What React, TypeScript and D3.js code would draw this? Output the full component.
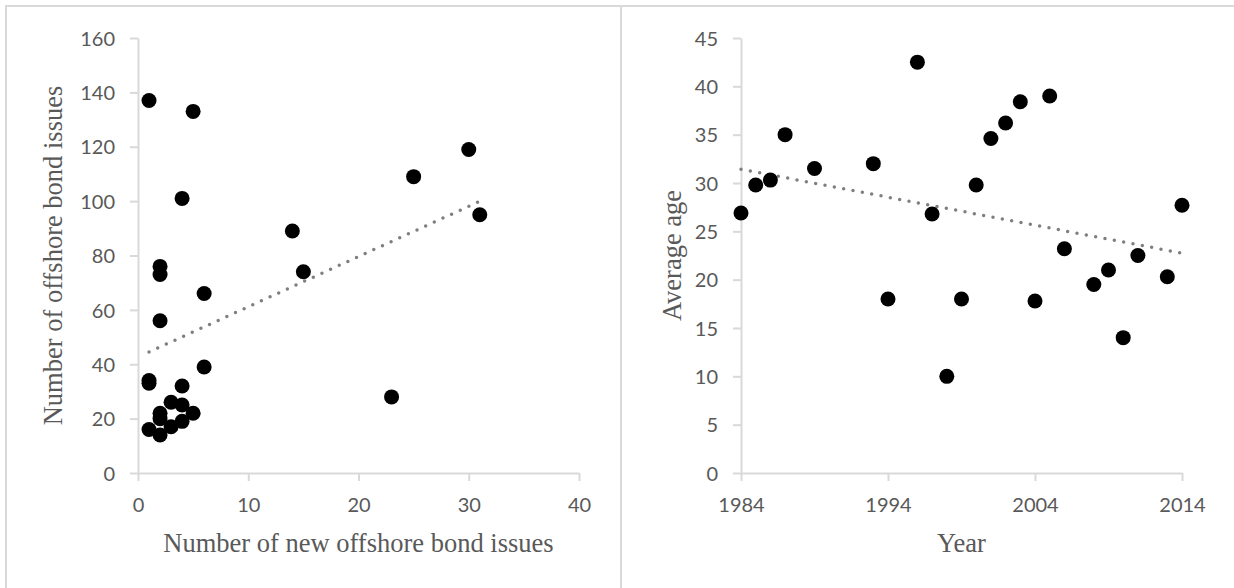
import React, { useEffect, useRef } from 'react';
import * as d3 from 'd3';

// left panel: new vs total offshore bond issues
const newIssues = [1, 5, 4, 2, 2, 6, 14, 15, 25, 30, 31, 2, 6, 1, 1, 4, 23, 3, 4, 5, 2, 2, 1, 2, 3, 4];
const totalIssues = [137, 133, 101, 76, 73, 66, 89, 74, 109, 119, 95, 56, 39, 34, 33, 32, 28, 26, 25, 22, 22, 20, 16, 14, 17, 19];
const leftXTicks = [0, 10, 20, 30, 40];
const leftYTicks = [0, 20, 40, 60, 80, 100, 120, 140, 160];

// right panel: average age by year
const years = [1984, 1985, 1986, 1987, 1989, 1993, 1994, 1996, 1997, 1998, 1999, 2000, 2001, 2002, 2003, 2004, 2005, 2006, 2008, 2009, 2010, 2011, 2013, 2014];
const avgAge = [26.9, 29.8, 30.3, 35.0, 31.5, 32.0, 18.0, 42.5, 26.8, 10.0, 18.0, 29.8, 34.6, 36.2, 38.4, 17.8, 39.0, 23.2, 19.5, 21.0, 14.0, 22.5, 20.3, 27.7];
const rightXTicks = [1984, 1994, 2004, 2014];
const rightYTicks = [0, 5, 10, 15, 20, 25, 30, 35, 40, 45];

const W = 1234;
const H = 588;
const GRID = '#d9d9d9';
const TEXT = '#595959';

function linreg(xs, ys) {
  const mx = d3.mean(xs);
  const my = d3.mean(ys);
  let sxy = 0;
  let sxx = 0;
  xs.forEach((x, i) => {
    sxy += (x - mx) * (ys[i] - my);
    sxx += (x - mx) * (x - mx);
  });
  const b = sxy / sxx;
  return (x) => my + b * (x - mx);
}

function drawPanel(svg, p) {
  const g = svg.append('g');

  // chart border
  g.append('rect')
    .attr('x', p.box[0])
    .attr('y', p.box[1])
    .attr('width', p.box[2])
    .attr('height', p.box[3])
    .attr('fill', 'none')
    .attr('stroke', GRID)
    .attr('stroke-width', 2);

  const x = d3.scaleLinear().domain(p.xDomain).range([p.left, p.left + 441]);
  const y = d3.scaleLinear().domain(p.yDomain).range([473, 38]);

  const xAxis = g.append('g')
    .attr('transform', 'translate(0,473)')
    .call(d3.axisBottom(x).tickValues(p.xTicks).tickFormat(d3.format('d')).tickSize(8).tickSizeOuter(0).tickPadding(17));
  const yAxis = g.append('g')
    .attr('transform', `translate(${p.left},0)`)
    .call(d3.axisLeft(y).tickValues(p.yTicks).tickFormat(d3.format('d')).tickSize(8).tickSizeOuter(0).tickPadding(15));

  [xAxis, yAxis].forEach((a) => {
    a.select('.domain').attr('stroke', GRID).attr('stroke-width', 2);
    a.selectAll('.tick line').attr('stroke', GRID).attr('stroke-width', 2);
    a.selectAll('.tick text')
      .attr('fill', TEXT)
      .style('font-family', 'Lato, sans-serif')
      .style('font-size', '20px');
  });
  yAxis.selectAll('.tick text').attr('dy', '0.36em');

  // dotted linear trendline
  const f = linreg(p.xs, p.ys);
  const [x0, x1] = d3.extent(p.xs);
  g.append('path')
    .attr('d', d3.line()([[x(x0), y(f(x0))], [x(x1), y(f(x1))]]))
    .attr('stroke', '#7f7f7f')
    .attr('stroke-width', 3.5)
    .attr('stroke-linecap', 'round')
    .attr('stroke-dasharray', '0 9.5')
    .attr('fill', 'none');

  g.selectAll('.pt')
    .data(p.xs)
    .enter()
    .append('circle')
    .attr('cx', (d) => x(d))
    .attr('cy', (d, i) => y(p.ys[i]))
    .attr('r', 7.5)
    .attr('fill', '#000');

  g.append('text')
    .attr('x', p.left + 220.5)
    .attr('y', 552)
    .attr('text-anchor', 'middle')
    .attr('fill', TEXT)
    .style('font-family', '"Liberation Serif", "Times New Roman", serif')
    .style('font-size', '26.5px')
    .text(p.xTitle);

  g.append('text')
    .attr('transform', `translate(${p.yTitleX},255.5) rotate(-90)`)
    .attr('text-anchor', 'middle')
    .attr('dy', '0.3em')
    .attr('fill', TEXT)
    .style('font-family', '"Liberation Serif", "Times New Roman", serif')
    .style('font-size', '26.5px')
    .text(p.yTitle);
}

export default function App() {
  const ref = useRef(null);

  useEffect(() => {
    const svg = d3.select(ref.current);
    svg.selectAll('*').remove();
    svg.append('rect').attr('width', W).attr('height', H).attr('fill', '#fff');

    drawPanel(svg, {
      box: [6, 6, 615, 600],
      left: 138,
      xDomain: [0, 40],
      yDomain: [0, 160],
      xTicks: leftXTicks,
      yTicks: leftYTicks,
      xs: newIssues,
      ys: totalIssues,
      xTitle: 'Number of new offshore bond issues',
      yTitle: 'Number of offshore bond issues',
      yTitleX: 54,
    });

    drawPanel(svg, {
      box: [621, 6, 640, 600],
      left: 741,
      xDomain: [1984, 2014],
      yDomain: [0, 45],
      xTicks: rightXTicks,
      yTicks: rightYTicks,
      xs: years,
      ys: avgAge,
      xTitle: 'Year',
      yTitle: 'Average age',
      yTitleX: 673,
    });
  });

  return (
    <div style={{ position: 'absolute', left: 0, top: 0 }}>
      <svg ref={ref} width={W} height={H} style={{ display: 'block' }}></svg>
    </div>
  );
}
